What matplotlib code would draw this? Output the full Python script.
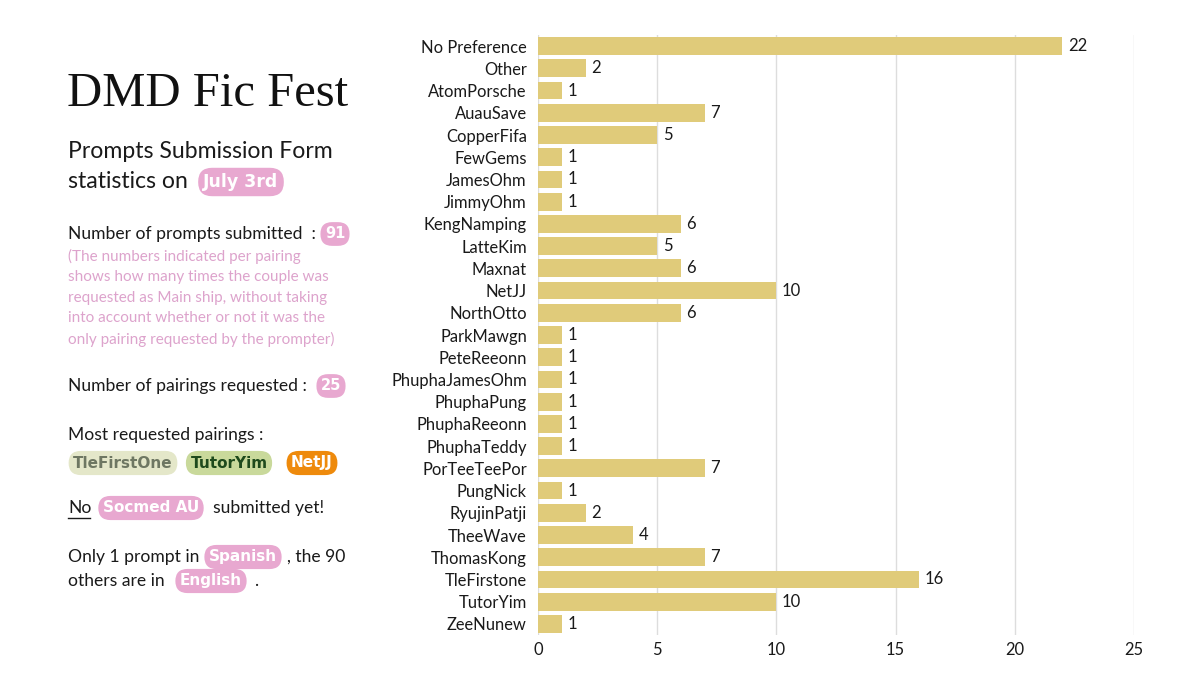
import matplotlib.pyplot as plt
import numpy as np

# pairing counts, top to bottom
pairings = [
    "No Preference", "Other", "AtomPorsche", "AuauSave", "CopperFifa", "FewGems",
    "JamesOhm", "JimmyOhm", "KengNamping", "LatteKim", "Maxnat", "NetJJ",
    "NorthOtto", "ParkMawgn", "PeteReeonn", "PhuphaJamesOhm", "PhuphaPung",
    "PhuphaReeonn", "PhuphaTeddy", "PorTeeTeePor", "PungNick", "RyujinPatji",
    "TheeWave", "ThomasKong", "TleFirstone", "TutorYim", "ZeeNunew",
]
counts = [22, 2, 1, 7, 5, 1, 1, 1, 6, 5, 6, 10, 6, 1, 1, 1, 1, 1, 1, 7, 1, 2, 4, 7, 16, 10, 1]
x_ticks = [0, 5, 10, 15, 20, 25]

BAR_COLOR = "#E0CB7A"
PINK = "#E8A8D0"
NOTE_PINK = "#DDA3CC"
TEXT = "#1a1a1a"
SANS = ["Lato", "DejaVu Sans"]
PILL_FONT = ["DejaVu Sans"]

W, H = 1200, 675
fig = plt.figure(figsize=(12, 6.75), dpi=100)


def fx(px):
    return px / W


def fy(py):
    return 1 - py / H


def body(x, y, s, size=12.6, color=TEXT, **kw):
    return fig.text(fx(x), fy(y), s, fontsize=size, color=color, family=SANS,
                    va="center", ha="left", **kw)


def pill(x, y, s, fc, tc="white", size=11):
    # x is the pill centre
    fig.text(fx(x), fy(y), s, fontsize=size, color=tc, family=PILL_FONT,
             fontweight="bold", va="center", ha="center",
             bbox=dict(boxstyle="round,pad=0.3,rounding_size=0.8", fc=fc, ec="none"))


# ---- bar chart ----
ax = fig.add_axes([fx(538), fy(635), fx(1134) - fx(538), fy(35) - fy(635)])
y = np.arange(len(pairings))
bars = ax.barh(y, counts, height=0.8, color=BAR_COLOR, zorder=3)
ax.bar_label(bars, padding=4, fontsize=12, color=TEXT, family=SANS)
ax.set_yticks(y)
ax.set_yticklabels(pairings, fontsize=11.9, color=TEXT, family=SANS)
ax.set_ylim(len(pairings) - 0.5, -0.5)
ax.set_xlim(0, 25)
ax.set_xticks(x_ticks)
ax.set_xticklabels([str(t) for t in x_ticks], fontsize=11.9, color=TEXT, family=SANS)
ax.tick_params(length=0)
ax.tick_params(axis="x", pad=5)
ax.tick_params(axis="y", pad=8)
ax.grid(axis="x", color="#DDDDDD", linewidth=1, zorder=0)
for side in ax.spines.values():
    side.set_visible(False)

# ---- left text panel ----
fig.text(fx(67), fy(94), "DMD Fic Fest", fontsize=35, color="#111111",
         family=["Liberation Serif", "DejaVu Serif"], va="center", ha="left")

body(68, 151, "Prompts Submission Form", size=16.6)
body(68, 182, "statistics on", size=16.6)
pill(241, 182, "July 3rd", PINK, size=12.5)

body(68, 234, "Number of prompts submitted  :")
pill(335, 234, "91", PINK, size=10.5)

note = ["(The numbers indicated per pairing",
        "shows how many times the couple was",
        "requested as Main ship, without taking",
        "into account whether or not it was the",
        "only pairing requested by the prompter)"]
for i, line in enumerate(note):
    body(68, 256 + i * 20.8, line, size=11, color=NOTE_PINK)

body(68, 386, "Number of pairings requested :")
pill(331, 386, "25", PINK, size=10.5)

body(68, 435, "Most requested pairings :")
pill(123, 463, "TleFirstOne", "#E4E7C9", tc="#6E7762")
pill(229, 463, "TutorYim", "#C9D99B", tc="#1E4A1C")
pill(312, 463, "NetJJ", "#EE8A0C")

body(68, 508, "No")
fig.add_artist(plt.Line2D([fx(68), fx(90)], [fy(518), fy(518)], color=TEXT, linewidth=1))
pill(151, 508, "Socmed AU", PINK)
body(213, 508, "submitted yet!")

body(68, 557, "Only 1 prompt in")
pill(243, 557, "Spanish", PINK)
body(287, 557, ", the 90")
body(68, 581, "others are in")
pill(211, 581, "English", PINK)
body(254, 581, ".")

fig.savefig("out.png", dpi=100, facecolor="white")
